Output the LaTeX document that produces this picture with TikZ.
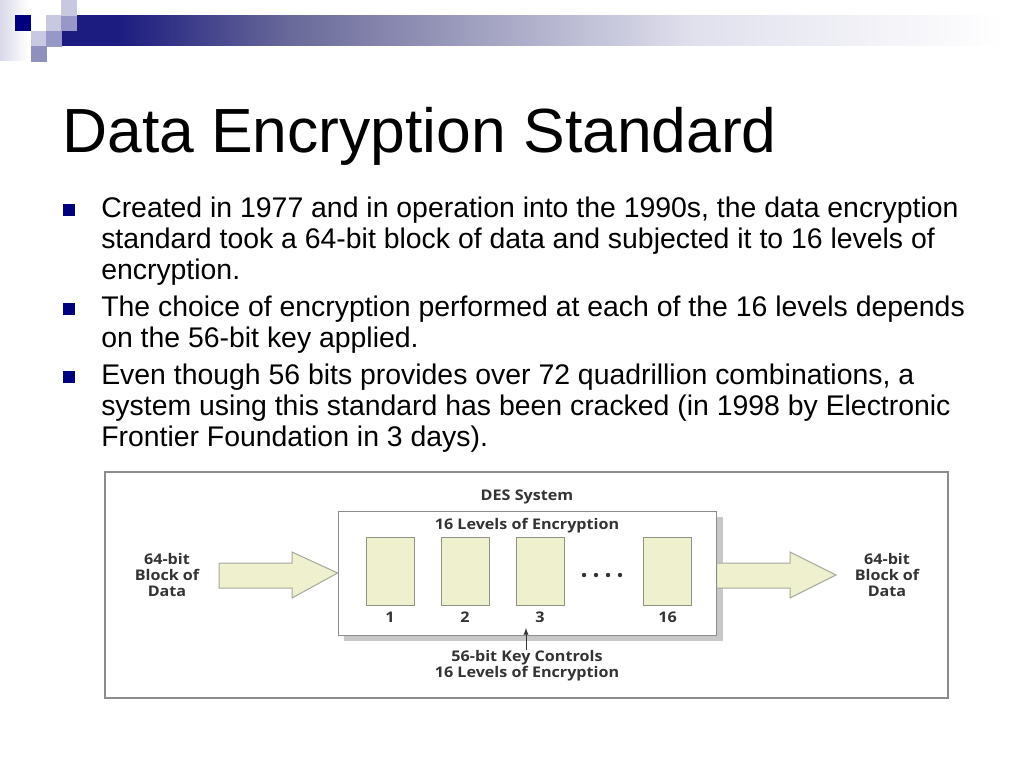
\documentclass[tikz,border=0pt]{standalone}
\usepackage{fontspec}
\setmainfont{Liberation Sans}
\newfontfamily\diagfont[FakeStretch=1.1]{Open Sans}
\usetikzlibrary{positioning,shadows}

\definecolor{barnavy}{HTML}{1C1C80}
\definecolor{barslate}{HTML}{6A6A9A}
\definecolor{sqnavy}{HTML}{00007F}
\definecolor{sqlight}{HTML}{C8C8E0}
\definecolor{sqmid}{HTML}{9898C8}
\definecolor{framegray}{HTML}{8C8C8C}
\definecolor{shadowgray}{HTML}{C8C8C8}
\definecolor{levelfill}{HTML}{EEF0CE}
\definecolor{levelline}{HTML}{8E9484}
\definecolor{diagtext}{HTML}{333333}

\pgfdeclarehorizontalshading{barfade}{100bp}{color(0bp)=(barnavy); color(25bp)=(barnavy);
  color(28bp)=(barnavy); color(37bp)=(barslate); color(58bp)=(sqlight!55);
  color(74bp)=(white); color(100bp)=(white)}

\tikzset{
  body/.style={anchor=base west,inner sep=0pt,font=\fontsize{21.3}{23}\selectfont},
  bulletsq/.style={fill=sqnavy},
  diag/.style={inner sep=0pt,text=diagtext,align=center,
    font=\diagfont\bfseries\fontsize{11}{12}\selectfont},
  numlab/.style={diag,text height=8pt,text depth=0pt},
  level/.style={draw=levelline,fill=levelfill,line width=0.75pt,
    minimum width=36pt,minimum height=51pt,inner sep=0pt},
  fatarrow/.style={draw=levelline!80,fill=levelfill,line width=0.75pt}
}

\begin{document}
\begin{tikzpicture}[x=0.75pt,y=-0.75pt]
\useasboundingbox (0,0) rectangle (1024,768);
% top corner
\fill[left color=sqlight!70,right color=white] (0,0) rectangle (28,60);
\shade[shading=barfade] (61,15) rectangle (1024,45);
\foreach \x/\y/\c in {15/15/sqnavy,46/15/sqlight,61/15/sqmid,61/0/sqlight,
    31/31/sqlight,46/31/sqmid,31/46/sqmid!95!black}
  \fill[\c] (\x,\y) rectangle ++(15.5,15.5);

\node (title) [anchor=base west,inner sep=0pt,font=\fontsize{46.8}{50}\selectfont] at (62,152) {Data Encryption Standard};

\fill[bulletsq] (63,204) rectangle ++(12,12);
\node (l1) [body] at (101,217) {Created in 1977 and in operation into the 1990s, the data encryption};
\node (l2) [body] at (101,248) {standard took a 64-bit block of data and subjected it to 16 levels of};
\node (l3) [body] at (101,279) {encryption.};
\fill[bulletsq] (63,303) rectangle ++(12,12);
\node (l4) [body] at (101,316) {The choice of encryption performed at each of the 16 levels depends};
\node (l5) [body] at (101,347) {on the 56-bit key applied.};
\fill[bulletsq] (63,371) rectangle ++(12,12);
\node (l6) [body] at (101,384) {Even though 56 bits provides over 72 quadrillion combinations, a};
\node (l7) [body] at (101,415) {system using this standard has been cracked (in 1998 by Electronic};
\node (l8) [body] at (101,446) {Frontier Foundation in 3 days).};

% DES picture
\draw[framegray,fill=white,line width=0.9pt] (105,472) rectangle (948,698);
\node (sys) [draw=framegray,fill=white,line width=0.75pt,minimum width=284pt,minimum height=93pt,
  drop shadow={shadow xshift=4.5pt,shadow yshift=-4.5pt,fill=shadowgray,opacity=1}] at (527.5,573) {};
\node (des) [diag] at (527,497) {DES System};
\node (lev) [diag] at (527,526) {16 Levels of Encryption};

\node (b1) [level] at (390,571) {};
\node (b2) [level,right=19.5pt of b1] {};
\node (b3) [level,right=19.5pt of b2] {};
\node (b16) [level] at (667.5,571) {};
\node (n1) [numlab,below=4.5pt of b1] {1};
\node (n2) [numlab,below=4.5pt of b2] {2};
\node (n3) [numlab,below=4.5pt of b3] {3};
\node (n16) [numlab,below=4.5pt of b16] {16};
\foreach \x in {584,596,608,620}
  \fill[diagtext] (\x,575) circle (2.2);

\draw[fatarrow] (219,563) -- (292,563) -- (292,552) -- (sys.west) -- (292,598) -- (292,588) -- (219,588) -- cycle;
\coordinate (outtip) at (836,575);
\draw[fatarrow] (sys.east |- 0,563) -- (790,563) -- (790,552) -- (outtip) -- (790,598) -- (790,588) -- (sys.east |- 0,588);

\node (inblk) [diag] at (167,575) {64-bit\\Block of\\Data};
\node (outblk) [diag] at (887,575) {64-bit\\Block of\\Data};
\node (key) [diag] at (527,666) {56-bit Key Controls\\16 Levels of Encryption};
\coordinate (keytip) at (526,628);
\draw[-{latex},diagtext,line width=0.75pt] (key.north -| keytip) -- (keytip);
\end{tikzpicture}
\end{document}
